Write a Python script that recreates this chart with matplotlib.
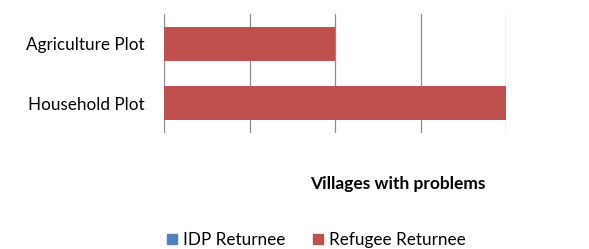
import matplotlib.pyplot as plt
from matplotlib.patches import Patch

# data
categories = ["Household Plot", "Agriculture Plot"]
idp_returnee = [0, 0]
refugee_returnee = [4, 2]
series_names = ["IDP Returnee", "Refugee Returnee"]
colors = ["#4F81BD", "#C0504D"]

plt.rcParams['font.family'] = ['Lato', 'DejaVu Sans']

fig = plt.figure(figsize=(5.89, 2.49), dpi=100)
ax = fig.add_axes([0.279, 0.466, 0.580, 0.478])

ypos = range(len(categories))
ax.barh(ypos, idp_returnee, height=0.57, color=colors[0])
ax.barh(ypos, refugee_returnee, left=idp_returnee, height=0.57, color=colors[1])

ax.set_xlim(0, 4)
ax.set_ylim(-0.5, 1.5)
ax.set_xticks([0, 1, 2, 3, 4])
ax.set_xticklabels([])
ax.set_yticks(list(ypos))
ax.set_yticklabels(categories, fontsize=12.3)
ax.tick_params(axis='both', length=0, pad=14)
ax.grid(axis='x', color='#8c8c8c', linewidth=0.9)
ax.set_axisbelow(True)
for s in ax.spines.values():
    s.set_visible(False)

fig.text(0.676, 0.262, "Villages with problems", fontsize=12.5, fontweight='bold',
         ha='center', va='center')

handles = [Patch(color=c, label=n) for c, n in zip(colors, series_names)]
fig.legend(handles=handles, loc='center', bbox_to_anchor=(0.537, 0.036), ncol=2,
           frameon=False, fontsize=12.3, handlelength=0.6, handleheight=0.6,
           handletextpad=0.35, columnspacing=1.6)

fig.savefig("out.png", dpi=100)
